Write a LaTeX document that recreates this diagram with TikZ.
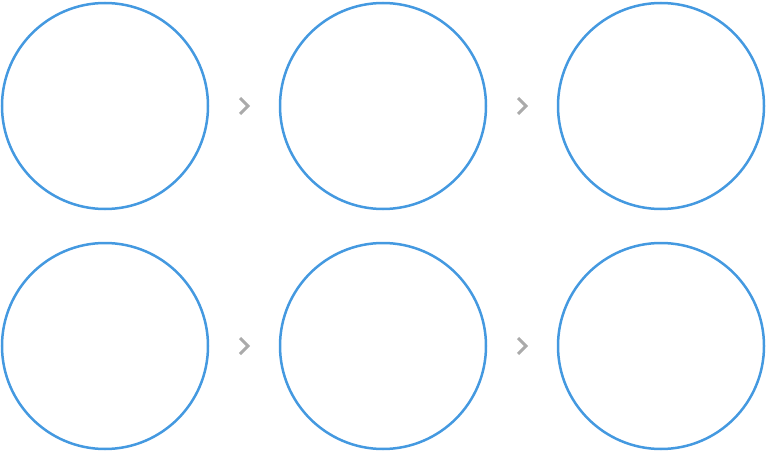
\documentclass[tikz,border=0pt]{standalone}
\definecolor{ringblue}{HTML}{4499E0}
\definecolor{chevgray}{HTML}{AAAAAA}
\begin{document}
\begin{tikzpicture}[x=1pt,y=-1pt,
  ring/.style={circle,draw=ringblue,line width=2.5pt,minimum size=206pt,inner sep=0pt},
  chev/.style={draw=chevgray,line width=3pt,line cap=butt,line join=miter}]
\useasboundingbox (0,0) rectangle (769,452);
\foreach \r/\y in {1/106,2/346}{
  \node[ring] (c\r a) at (105,\y) {};
  \node[ring] (c\r b) at (383,\y) {};
  \node[ring] (c\r c) at (661,\y) {};
  \foreach \x in {244,522}{
    \draw[chev] (\x-4,\y-8) -- (\x+4,\y) -- (\x-4,\y+8);
  }
}
\end{tikzpicture}
\end{document}
